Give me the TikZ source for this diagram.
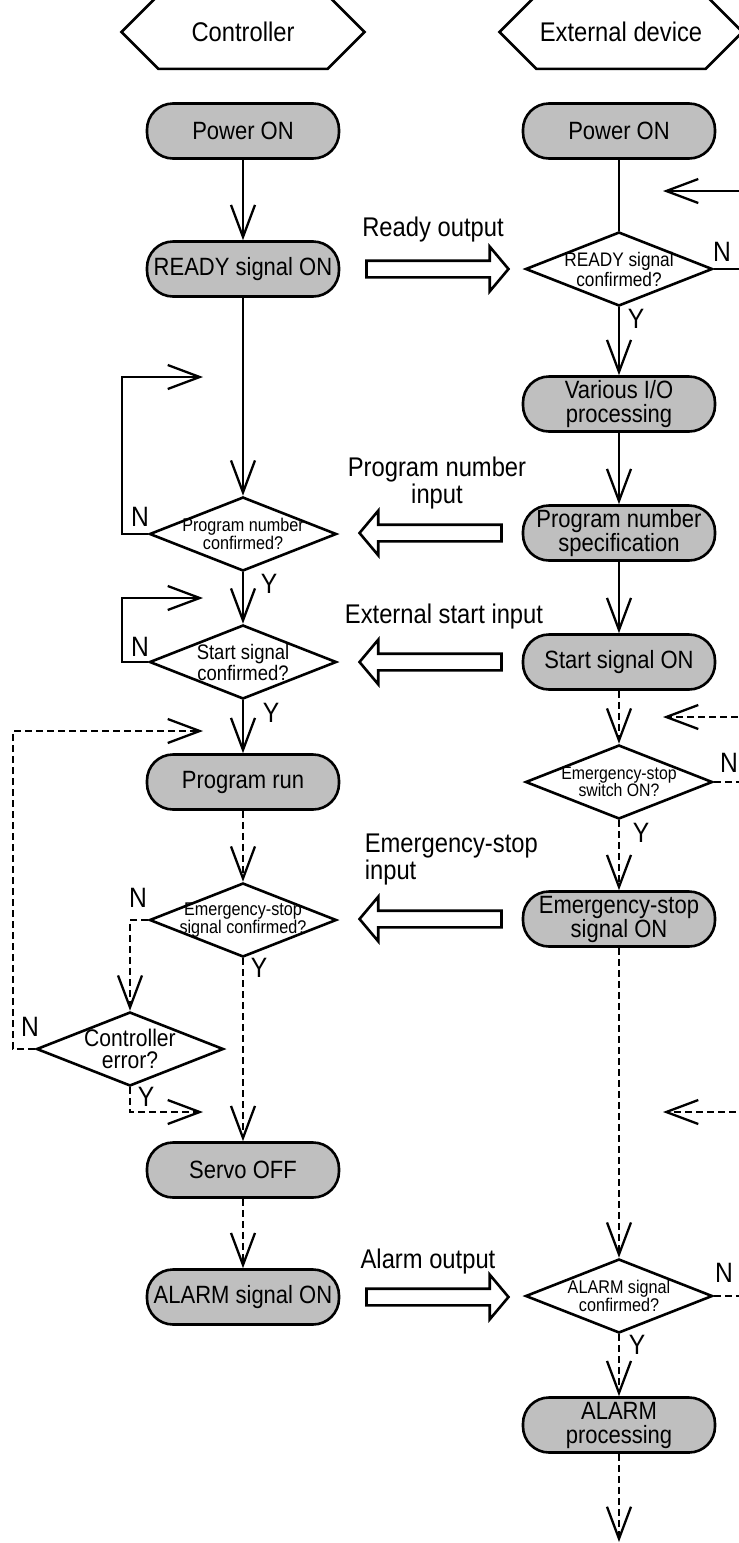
\documentclass[tikz,border=0pt]{standalone}
\usepackage{fontspec}
\setmainfont{Liberation Sans}[FakeStretch=0.88]
\usepackage{tikz}
\usetikzlibrary{arrows.meta,calc,shapes.geometric,shapes.misc,shapes.arrows}

\begin{document}
\begin{tikzpicture}[x=0.5pt,y=-0.5pt,line width=1.15pt,
    >={Straight Barb[length=16pt,width=12pt]},
    proc/.style={draw,line width=1.3pt,rounded corners=13pt,fill=black!25,minimum width=96pt,minimum height=27.5pt,inner sep=1pt,align=center,font=\fontsize{12.5}{12}\selectfont},
    ask/.style={draw,line width=1.3pt,diamond,fill=white,minimum width=93.5pt,minimum height=37pt,inner sep=0pt},
    qtxt/.style={align=center,font=\fontsize{9.2}{9.2}\selectfont},
    lane/.style={draw,line width=1.3pt,chamfered rectangle,chamfered rectangle xsep=17pt,chamfered rectangle ysep=13.5pt,minimum width=121.5pt,minimum height=27pt,inner sep=0pt,font=\fontsize{13.5}{13.5}\selectfont},
    bigarrow/.style={draw,line width=1.3pt,fill=white,single arrow,single arrow head extend=7pt,single arrow tip angle=100,single arrow head indent=0pt,minimum height=71pt,inner xsep=0pt,inner ysep=3.5pt},
    lbl/.style={font=\fontsize{13.5}{13.5}\selectfont,align=center},
    yn/.style={font=\fontsize{14}{14}\selectfont},
    dsh/.style={dash pattern=on 3.5pt off 2pt}]
\useasboundingbox (0,0) rectangle (739,1543);
\clip (0,0) rectangle (739,1543);

% headers
\node[lane] (hctl) at (243,32) {Controller};
\node[lane] (hext) at (621,32) {External device};

% controller side
\node[proc] (pwrL) at (243,131) {Power ON};
\node[proc] (rdyL) at (243,269) {READY signal ON};
\node[ask,label={[qtxt]center:{Program number\\confirmed?}}] (pnq) at (243,534) {};
\node[ask,label={[qtxt,font=\fontsize{10.5}{10.5}\selectfont]center:{Start signal\\confirmed?}}] (stq) at (243,662) {};
\node[proc] (run) at (243,782) {Program run};
\node[ask,label={[qtxt]center:{Emergency-stop\\signal confirmed?}}] (esc) at (243,920) {};
\node[ask,label={[qtxt,font=\fontsize{12}{10.8}\selectfont]center:{Controller\\error?}}] (cerr) at (130,1049) {};
\node[proc] (srv) at (243,1170) {Servo OFF};
\node[proc] (almL) at (243,1297) {ALARM signal ON};

% external device side
\node[proc] (pwrR) at (619,131) {Power ON};
\node[ask,label={[qtxt,font=\fontsize{9.8}{10}\selectfont]center:{READY signal\\confirmed?}}] (rdyq) at (619,269) {};
\node[proc] (io) at (619,404) {Various I/O\\processing};
\node[proc] (pnum) at (619,533) {Program number\\specification};
\node[proc] (stR) at (619,662) {Start signal ON};
\node[ask,label={[qtxt,font=\fontsize{9}{8.8}\selectfont]center:{Emergency-stop\\switch ON?}}] (esq) at (619,782) {};
\node[proc] (esR) at (619,919) {Emergency-stop\\signal ON};
\node[ask,label={[qtxt]center:{ALARM signal\\confirmed?}}] (alq) at (619,1296) {};
\node[proc] (alR) at (619,1425) {ALARM\\processing};

% signals between the two sides
\node[bigarrow] (aready) at (434,269) {};
\node[bigarrow,shape border rotate=180] (apnum) at (434,533) {};
\node[bigarrow,shape border rotate=180] (astart) at (434,662) {};
\node[bigarrow,shape border rotate=180] (aestop) at (434,919) {};
\node[bigarrow] (aalarm) at (434,1297) {};
\node[lbl] (tready) at (433,230) {Ready output};
\node[lbl] (tpnum) at (437,483) {Program number\\input};
\node[lbl] (tstart) at (444,617) {External start input};
\node[lbl,anchor=west,align=left] (testop) at (357,860) {Emergency-stop\\input};
\node[lbl] (talarm) at (428,1262) {Alarm output};

% Y / N marks
\node[yn] (n1) at (722,252) {N};
\node[yn] (y1) at (636,319) {Y};
\node[yn] (n2) at (140,517) {N};
\node[yn] (y2) at (269,584) {Y};
\node[yn] (n3) at (140,647) {N};
\node[yn] (y3) at (271,713) {Y};
\node[yn] (n4) at (729,763) {N};
\node[yn] (y4) at (641,833) {Y};
\node[yn] (n5) at (138,898) {N};
\node[yn] (y5) at (259,968) {Y};
\node[yn] (n6) at (30,1027) {N};
\node[yn] (y6) at (146,1097) {Y};
\node[yn] (n7) at (724,1273) {N};
\node[yn] (y7) at (637,1345) {Y};

\coordinate (rdyback) at (663,191);
\coordinate (pnback) at (203,377);
\coordinate (stback) at (203,598);
\coordinate (runback) at (203,731);
\coordinate (esback) at (663,717);
\coordinate (srvback) at (203,1112);
\coordinate (alback) at (663,1112);
\coordinate (flowend) at (619,1542);

% solid flow
\draw[->] (pwrL) -- (rdyL);
\draw[->] (rdyL) -- (pnq);
\draw[->] (pnq) -- (stq);
\draw[->] (stq) -- (run);
\draw[->] (pnq.west) -- ++(-26,0) |- (pnback);
\draw[->] (stq.west) -- ++(-26,0) |- (stback);
\draw (pwrR) -- (rdyq);
\draw[->] (rdyq.east) -- ++(40,0) |- (rdyback);
\draw[->] (rdyq) -- (io);
\draw[->] (io) -- (pnum);
\draw[->] (pnum) -- (stR);

% dashed flow
\draw[dsh,->] (run) -- (esc);
\draw[dsh,->] (esc.west) -| (cerr.north);
\draw[dsh,->] (esc) -- (srv);
\draw[dsh,->] (cerr.west) -- ++(-22,0) |- (runback);
\draw[dsh,->] (cerr.south) |- (srvback);
\draw[dsh,->] (srv) -- (almL);
\draw[dsh,->] (stR) -- (esq);
\draw[dsh,->] (esq.east) -- ++(40,0) |- (esback);
\draw[dsh,->] (esq) -- (esR);
\draw[dsh,->] (esR) -- (alq);
\draw[dsh,->] (alq.east) -- ++(40,0) |- (alback);
\draw[dsh,->] (alq) -- (alR);
\draw[dsh,->] (alR) -- (flowend);
\end{tikzpicture}
\end{document}
